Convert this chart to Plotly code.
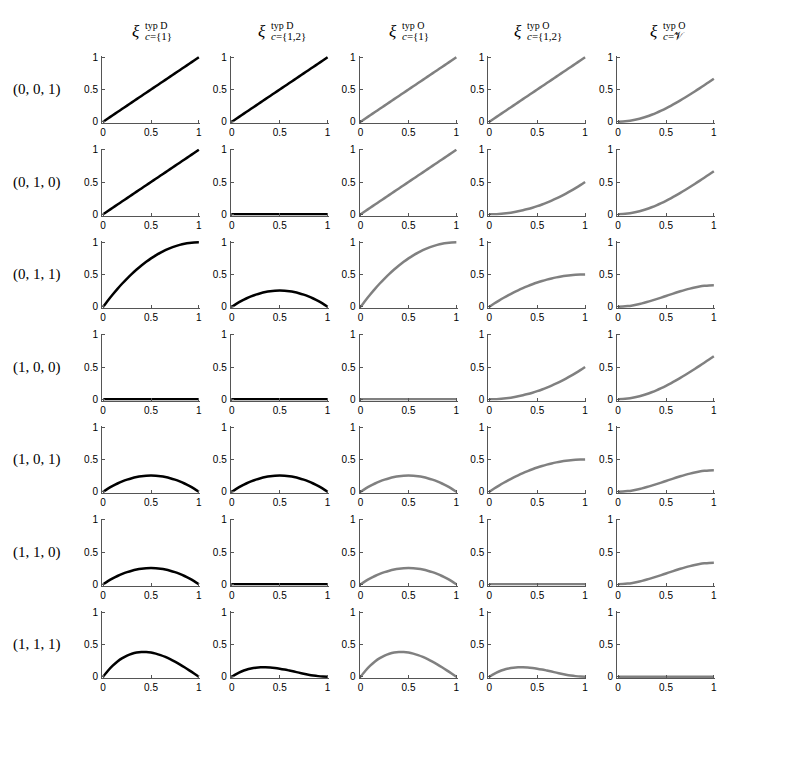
import plotly.graph_objects as go

x = [0, 0.05, 0.1, 0.15, 0.2, 0.25, 0.3, 0.35, 0.4, 0.45, 0.5,
     0.55, 0.6, 0.65, 0.7, 0.75, 0.8, 0.85, 0.9, 0.95, 1.0]

zero = [0] * 21
linear = [0, 0.05, 0.1, 0.15, 0.2, 0.25, 0.3, 0.35, 0.4, 0.45, 0.5,
          0.55, 0.6, 0.65, 0.7, 0.75, 0.8, 0.85, 0.9, 0.95, 1.0]
rise_full = [0, 0.0975, 0.19, 0.2775, 0.36, 0.4375, 0.51, 0.5775, 0.64, 0.6975, 0.75,
             0.7975, 0.84, 0.8775, 0.91, 0.9375, 0.96, 0.9775, 0.99, 0.9975, 1.0]
rise_half = [0, 0.0488, 0.095, 0.1388, 0.18, 0.2188, 0.255, 0.2888, 0.32, 0.3488, 0.375,
             0.3988, 0.42, 0.4388, 0.455, 0.4688, 0.48, 0.4888, 0.495, 0.4988, 0.5]
convex_half = [0, 0.0013, 0.005, 0.0113, 0.02, 0.0313, 0.045, 0.0613, 0.08, 0.1013, 0.125,
               0.1513, 0.18, 0.2113, 0.245, 0.2813, 0.32, 0.3613, 0.405, 0.4513, 0.5]
convex_two_thirds = [0, 0.0025, 0.0097, 0.0214, 0.0373, 0.0573, 0.081, 0.1082, 0.1387, 0.1721, 0.2083,
                     0.247, 0.288, 0.331, 0.3757, 0.4219, 0.4693, 0.5178, 0.567, 0.6167, 0.6667]
s_third = [0, 0.0024, 0.0093, 0.0203, 0.0347, 0.0521, 0.072, 0.0939, 0.1173, 0.1418, 0.1667,
           0.1916, 0.216, 0.2394, 0.2613, 0.2813, 0.2987, 0.3131, 0.324, 0.3309, 0.3333]
hump = [0, 0.0475, 0.09, 0.1275, 0.16, 0.1875, 0.21, 0.2275, 0.24, 0.2475, 0.25,
        0.2475, 0.24, 0.2275, 0.21, 0.1875, 0.16, 0.1275, 0.09, 0.0475, 0]
hump_tall = [0, 0.0926, 0.171, 0.2359, 0.288, 0.3281, 0.357, 0.3754, 0.384, 0.3836, 0.375,
             0.3589, 0.336, 0.3071, 0.273, 0.2344, 0.192, 0.1466, 0.099, 0.0499, 0]
hump_low = [0, 0.0451, 0.081, 0.1084, 0.128, 0.1406, 0.147, 0.1479, 0.144, 0.1361, 0.125,
            0.1114, 0.096, 0.0796, 0.063, 0.0469, 0.032, 0.0191, 0.009, 0.0024, 0]

row_labels = ["(0, 0, 1)", "(0, 1, 0)", "(0, 1, 1)", "(1, 0, 0)",
              "(1, 0, 1)", "(1, 1, 0)", "(1, 1, 1)"]
col_sup = ["typ D", "typ D", "typ O", "typ O", "typ O"]
col_sub = ["<i>c</i>={1}", "<i>c</i>={1,2}", "<i>c</i>={1}", "<i>c</i>={1,2}", "<i>c</i>=𝒱"]
col_colors = ["black", "black", "#808080", "#808080", "#808080"]

grid = [
    [linear, linear, linear, linear, convex_two_thirds],
    [linear, zero, linear, convex_half, convex_two_thirds],
    [rise_full, hump, rise_full, rise_half, s_third],
    [zero, zero, zero, convex_half, convex_two_thirds],
    [hump, hump, hump, rise_half, s_third],
    [hump, zero, hump, zero, s_third],
    [hump_tall, hump_low, hump_tall, hump_low, zero],
]

# the page body has an 8px margin, so lay out in a 773x745 canvas shifted by 8px
PAD = 8
W, H = 789 - 2 * PAD, 761 - 2 * PAD
left0, col_step, pw = 102 - PAD, 128.75, 98
top0, row_step, ph = 56 - PAD, 92.5, 67
xi_offset = [-9, -12, -9.5, -13, -6]

fig = go.Figure()
annotations = []
tick_font = dict(family="Liberation Sans, Arial, sans-serif", size=10, color="black")
serif = "Liberation Serif, DejaVu Serif, serif"

for r in range(7):
    for c in range(5):
        k = r * 5 + c + 1
        xa = "x" if k == 1 else f"x{k}"
        ya = "y" if k == 1 else f"y{k}"
        fig.add_trace(go.Scatter(x=x, y=grid[r][c], mode="lines",
                                 line=dict(color=col_colors[c], width=2.5, shape="spline",
                                           smoothing=0.8),
                                 xaxis=xa, yaxis=ya, showlegend=False,
                                 hoverinfo="skip"))
        x0 = left0 + c * col_step
        y0 = top0 + r * row_step
        common = dict(showgrid=False, zeroline=False, showline=True,
                      linecolor="#555555", linewidth=1, ticks="inside",
                      ticklen=3, tickcolor="#555555", tickfont=tick_font,
                      tickvals=[0, 0.5, 1], ticktext=["0", "0.5", "1"],
                      automargin=False, fixedrange=True)
        fig.layout[f"xaxis{k if k > 1 else ''}"] = dict(
            domain=[x0 / W, (x0 + pw) / W], range=[-0.012, 1.012],
            anchor=ya, **common)
        fig.layout[f"yaxis{k if k > 1 else ''}"] = dict(
            domain=[1 - (y0 + ph) / H, 1 - y0 / H], range=[-0.02, 1.02],
            anchor=xa, ticklabelstandoff=1, **common)

# row labels
for r, lab in enumerate(row_labels):
    yc = top0 + r * row_step + ph / 2
    annotations.append(dict(x=(37 - PAD) / W, y=1 - yc / H, xref="paper", yref="paper",
                            text=lab, showarrow=False, xanchor="center", yanchor="middle",
                            font=dict(family=serif, size=15, color="black")))

# column titles
for c in range(5):
    cx = left0 + c * col_step + pw / 2
    xr = cx + xi_offset[c]
    annotations.append(dict(x=xr / W, y=1 - (32 - PAD) / H, xref="paper", yref="paper",
                            text="<i>ξ</i>", showarrow=False, xanchor="right",
                            yanchor="middle",
                            font=dict(family=serif, size=17, color="black")))
    annotations.append(dict(x=(xr + 1) / W, y=1 - (25 - PAD) / H, xref="paper", yref="paper",
                            text=col_sup[c], showarrow=False, xanchor="left",
                            yanchor="middle",
                            font=dict(family=serif, size=10, color="black")))
    annotations.append(dict(x=(xr + 1) / W, y=1 - (36 - PAD) / H, xref="paper", yref="paper",
                            text=col_sub[c], showarrow=False, xanchor="left",
                            yanchor="middle",
                            font=dict(family=serif, size=11, color="black")))

fig.update_layout(width=W, height=H, margin=dict(l=0, r=0, t=0, b=0),
                  paper_bgcolor="white", plot_bgcolor="white",
                  annotations=annotations)

fig.write_html("out.html")
